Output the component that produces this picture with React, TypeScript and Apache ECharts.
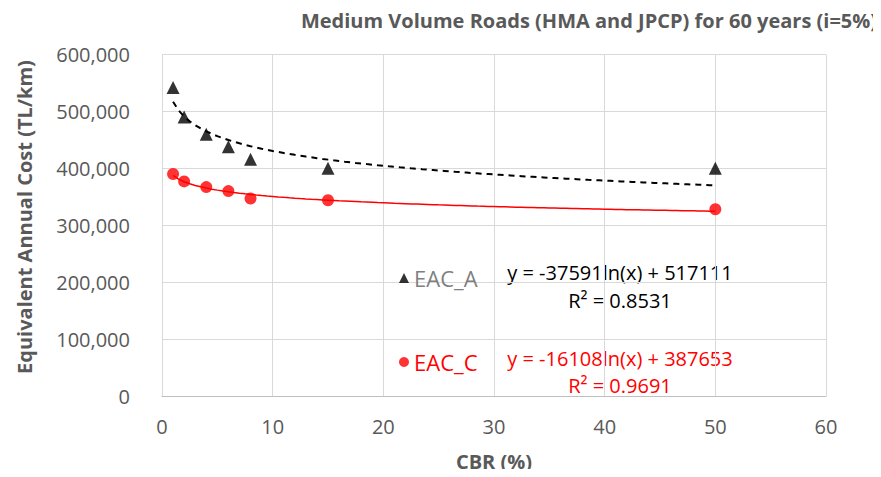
import React, { useEffect, useRef } from "react";
import * as echarts from "echarts";

const cbr = [1, 2, 4, 6, 8, 15, 50];
const eacA = [542000, 490000, 460000, 438000, 416000, 400000, 400000];
const eacC = [390000, 377000, 367000, 360000, 347000, 344000, 328000];
const xTicks = [0, 10, 20, 30, 40, 50, 60];
const yTicks = [0, 100000, 200000, 300000, 400000, 500000, 600000];
// trendline coefficients shown on the chart: y = a*ln(x) + b
const trendA = { a: -37591, b: 517111, r2: "0.8531" };
const trendC = { a: -16108, b: 387653, r2: "0.9691" };

const trendX: number[] = [];
for (let x = 1; x <= 50; x += 0.5) trendX.push(x);
const curve = (t: { a: number; b: number }) => trendX.map((x) => [x, t.a * Math.log(x) + t.b]);

const FONT = "'Open Sans', 'Noto Sans', sans-serif";

export default function App() {
  const ref = useRef<HTMLDivElement>(null);
  useEffect(() => {
    if (!ref.current) return;
    const chart = echarts.init(ref.current, null, { renderer: "svg" });
    const txt = (text: string, x: number, y: number, size: number, color: string, extra: any = {}) => ({
      type: "text",
      x,
      y,
      silent: true,
      rotation: extra.rotation || 0,
      style: {
        text,
        fill: color,
        font: `${extra.bold ? "bold " : ""}${size}px ${FONT}`,
        align: "center",
        verticalAlign: "middle",
      },
    });
    chart.setOption({
      animation: false,
      backgroundColor: "#ffffff",
      textStyle: { fontFamily: FONT },
      title: {
        text: "Medium Volume Roads (HMA and JPCP) for 60 years (i=5%)",
        left: 584,
        top: 5,
        textAlign: "center",
        textStyle: { fontSize: 20, fontWeight: "bold", color: "#595959", fontFamily: FONT },
      },
      grid: { left: 162, right: 55, top: 54.5, bottom: 81, containLabel: false },
      xAxis: {
        type: "value",
        min: xTicks[0],
        max: xTicks[xTicks.length - 1],
        interval: 10,
        axisLine: { show: true, lineStyle: { color: "#bfbfbf" } },
        axisTick: { show: false },
        axisLabel: { fontSize: 20, color: "#595959", margin: 20 },
        splitLine: { show: true, lineStyle: { color: "#d9d9d9" } },
      },
      yAxis: {
        type: "value",
        min: yTicks[0],
        max: yTicks[yTicks.length - 1],
        interval: 100000,
        axisLine: { show: true, lineStyle: { color: "#d9d9d9" } },
        axisTick: { show: false },
        axisLabel: {
          fontSize: 20,
          color: "#595959",
          margin: 32,
          formatter: (v: number) => v.toLocaleString("en-US"),
        },
        splitLine: { show: true, lineStyle: { color: "#d9d9d9" } },
      },
      legend: [
        {
          left: 394,
          top: 262,
          itemWidth: 10,
          itemHeight: 10,
          textStyle: { fontSize: 22, fontFamily: FONT, color: "#7f7f7f" },
          data: [{ name: "EAC_A", icon: "triangle" }],
        },
        {
          left: 394,
          top: 346,
          itemWidth: 10,
          itemHeight: 10,
          textStyle: { fontSize: 22, fontFamily: FONT, color: "#ff0000" },
          data: [{ name: "EAC_C", icon: "circle" }],
        },
      ],
      series: [
        {
          name: "trendA",
          type: "line",
          data: curve(trendA),
          showSymbol: false,
          symbol: "none",
          lineStyle: { color: "#000000", width: 2, type: [6, 5] },
          silent: true,
          z: 1,
        },
        {
          name: "trendC",
          type: "line",
          data: curve(trendC),
          showSymbol: false,
          symbol: "none",
          lineStyle: { color: "#ff0000", width: 1.5 },
          silent: true,
          z: 1,
        },
        {
          name: "EAC_A",
          type: "scatter",
          data: cbr.map((x, i) => [x, eacA[i]]),
          symbol: "triangle",
          symbolSize: 13,
          itemStyle: { color: "#000000" },
          z: 3,
        },
        {
          name: "EAC_C",
          type: "scatter",
          data: cbr.map((x, i) => [x, eacC[i]]),
          symbol: "circle",
          symbolSize: 12,
          itemStyle: { color: "#ff0000" },
          z: 3,
        },
      ],
      graphic: [
        txt("Equivalent Annual Cost (TL/km)", 24, 217, 20, "#595959", { bold: true, rotation: Math.PI / 2 }),
        txt("CBR (%)", 494, 461, 20, "#595959", { bold: true }),
        txt(`y = ${trendA.a}ln(x) + ${trendA.b}`, 620, 272, 20, "#000000"),
        txt(`R² = ${trendA.r2}`, 620, 300, 20, "#000000"),
        txt(`y = ${trendC.a}ln(x) + ${trendC.b}`, 620, 358, 20, "#ff0000"),
        txt(`R² = ${trendC.r2}`, 620, 385, 20, "#ff0000"),
      ],
    });
    return () => chart.dispose();
  }, []);
  return <div ref={ref} style={{ width: 881, height: 477, margin: -8 }} />;
}
